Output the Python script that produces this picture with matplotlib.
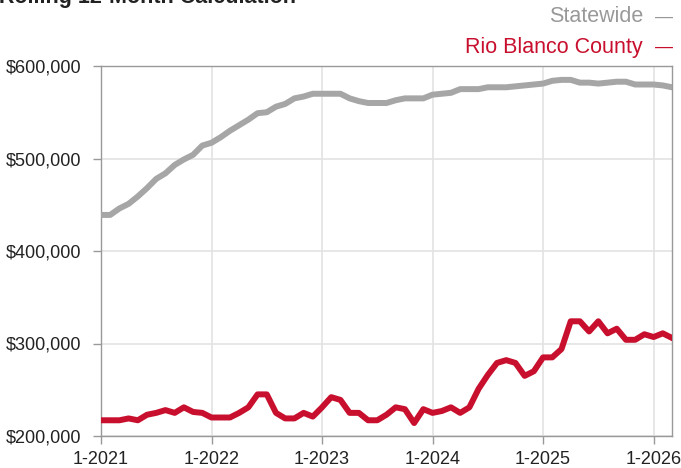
import matplotlib.pyplot as plt

plt.rcParams['font.family'] = ['Liberation Sans', 'DejaVu Sans']

# Monthly rolling 12-month median price, Jan 2021 .. Mar 2026
statewide = [439, 439, 446, 451, 459, 468, 478, 484, 493, 499, 504, 514,
             517, 523, 530, 536, 542, 549, 550, 556, 559, 565, 567, 570,
             570, 570, 570, 565, 562, 560, 560, 560, 563, 565, 565, 565,
             569, 570, 571, 575, 575, 575, 577, 577, 577, 578, 579, 580,
             581, 584, 585, 585, 582, 582, 581, 582, 583, 583, 580, 580,
             580, 579, 577]
rio_blanco = [217, 217, 217, 219, 217, 223, 225, 228, 225, 231, 226, 225,
              220, 220, 220, 225, 231, 245, 245, 225, 219, 219, 225, 221,
              231, 242, 239, 225, 225, 217, 217, 223, 231, 229, 214, 229,
              225, 227, 231, 225, 231, 251, 266, 279, 282, 279, 265, 270,
              285, 285, 294, 324, 324, 313, 324, 311, 316, 304, 304, 310,
              307, 311, 306]
statewide = [v * 1000 for v in statewide]
rio_blanco = [v * 1000 for v in rio_blanco]
months = list(range(len(statewide)))

year_ticks = [0, 12, 24, 36, 48, 60]
year_labels = ['1-2021', '1-2022', '1-2023', '1-2024', '1-2025', '1-2026']
y_ticks = [200000, 300000, 400000, 500000, 600000]

gray = '#a6a6a6'
red = '#c8102e'

fig = plt.figure(figsize=(6.81, 4.68), dpi=100)
ax = fig.add_axes([101 / 681, 1 - 436 / 468, 571 / 681, 370 / 468])

ax.plot(months, statewide, color=gray, linewidth=4.3, solid_joinstyle='round', zorder=3)
ax.plot(months, rio_blanco, color=red, linewidth=4.3, solid_joinstyle='round', zorder=3)

ax.set_xlim(0, 62)
ax.set_ylim(200000, 600000)
ax.set_xticks(year_ticks)
ax.set_xticklabels(year_labels)
ax.set_yticks(y_ticks)
ax.set_yticklabels(['${:,.0f}'.format(v) for v in y_ticks])

ax.grid(color='#e3e3e3', linewidth=1.2, zorder=0)
for s in ax.spines.values():
    s.set_color('#999999')
    s.set_linewidth(1)
ax.tick_params(axis='both', colors='#999999', labelcolor='#222222', labelsize=13, length=6, width=1)
ax.tick_params(axis='x', pad=5)
ax.tick_params(axis='y', pad=8)

# title (cut off at the top in the original)
fig.text(-0.002, 1 - 3 / 468, 'Rolling 12-Month Calculation', fontsize=15.5, fontweight='bold',
         color='#222222', ha='left', va='baseline')

# legend as text on the right
fig.text(643 / 681, 1 - 17 / 468, 'Statewide', fontsize=15.5, color='#999999', ha='right', va='center')
fig.text(655 / 681, 1 - 17 / 468, '—', fontsize=13, color='#999999', ha='left', va='center')
fig.text(643 / 681, 1 - 47 / 468, 'Rio Blanco County', fontsize=15.5, color=red, ha='right', va='center')
fig.text(655 / 681, 1 - 47 / 468, '—', fontsize=13, color=red, ha='left', va='center')

fig.savefig('out.png', dpi=100)
